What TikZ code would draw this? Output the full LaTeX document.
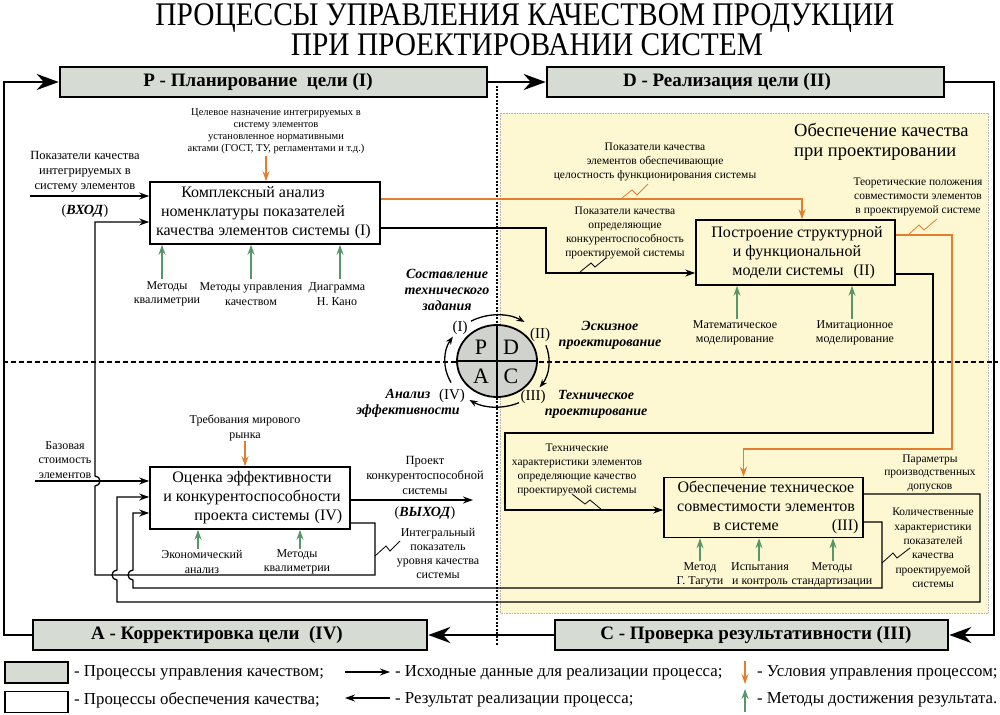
\documentclass[tikz,border=0pt]{standalone}
\usepackage{fontspec}
\setmainfont{Liberation Serif}
\newfontfamily\titlefont[FakeStretch=0.89]{Liberation Serif}
\usetikzlibrary{arrows.meta,shapes.geometric}
\definecolor{hdrgrey}{RGB}{214,219,211}
\definecolor{pdcagrey}{RGB}{208,210,206}
\definecolor{yel}{RGB}{253,248,210}
\definecolor{orng}{RGB}{226,126,46}
\definecolor{grn}{RGB}{86,150,104}
\tikzset{
  hdr/.style={draw, line width=2.6pt, fill=hdrgrey, inner sep=0pt},
  hdrtxt/.style={font=\bfseries\fontsize{19}{21}\selectfont, inner sep=0pt},
  procbox/.style={draw, line width=1.6pt, inner sep=0pt},
  proctxt/.style={align=center, font=\fontsize{16}{19}\selectfont, inner sep=0pt},
  lbl/.style={align=center, font=\fontsize{12}{14.5}\selectfont, inner sep=0pt},
  slbl/.style={align=center, font=\fontsize{11.5}{14}\selectfont, inner sep=0pt},
  tlbl/.style={align=center, font=\fontsize{10.5}{11.8}\selectfont, inner sep=0pt},
  ital/.style={align=center, font=\bfseries\itshape\fontsize{14}{16}\selectfont, inner sep=0pt},
  roman/.style={font=\fontsize{15}{17}\selectfont, inner sep=0pt},
  lgtxt/.style={anchor=west, font=\fontsize{16.8}{18}\selectfont, inner sep=0pt},
  flow/.style={line width=1.3pt, -{Stealth[length=10pt,width=7pt]}},
  oflow/.style={draw=orng, line width=1.3pt, -{Stealth[length=10pt,width=7pt]}, orng},
  gflow/.style={draw=grn, line width=1.3pt, -{Stealth[length=10pt,width=7pt]}, grn},
  bigloop/.style={line width=2.6pt, -{Stealth[length=22pt,width=16pt]}},
  zig/.style={line width=0.8pt},
  cyc/.style={line width=1.3pt, -{Stealth[length=8pt,width=6pt]}},
  legbox/.style={draw, line width=1.5pt, minimum width=63pt, minimum height=21pt, inner sep=0pt}
}
\begin{document}
\begin{tikzpicture}[x=1pt,y=-1pt]
\fill[white] (0,0) rectangle (1000,714);
\useasboundingbox (0,0) rectangle (1000,714);

% yellow region
\filldraw[fill=yel, draw=gray!60, densely dotted, line width=0.6pt] (500,113) rectangle (988,613);

% dividers
\draw[line width=1.5pt, dash pattern=on 2pt off 1.5pt] (497,86) -- (497,645);
\draw[line width=1.5pt, dash pattern=on 5pt off 3pt] (3,362) -- (998,362);

% title
\node[font=\titlefont\fontsize{33}{36}\selectfont, inner sep=0pt] (t1) at (525,18) {ПРОЦЕССЫ УПРАВЛЕНИЯ КАЧЕСТВОМ ПРОДУКЦИИ};
\node[font=\titlefont\fontsize{33}{36}\selectfont, inner sep=0pt] (t2) at (527,45) {ПРИ ПРОЕКТИРОВАНИИ СИСТЕМ};

% header boxes
\node[hdr, minimum width=427pt, minimum height=30pt] (hP) at (273.5,82) {};
\node[hdr, minimum width=397pt, minimum height=30pt] (hD) at (745.5,82) {};
\node[hdr, minimum width=394pt, minimum height=30pt] (hA) at (230,635) {};
\node[hdr, minimum width=393pt, minimum height=30pt] (hC) at (751.5,635) {};
\node[hdrtxt] (hPt) at (258,82) {P - Планирование\ \ цели (I)};
\node[hdrtxt] (hDt) at (727,82) {D - Реализация цели (II)};
\node[hdrtxt] (hAt) at (217,635) {A - Корректировка цели\ \ (IV)};
\node[hdrtxt] (hCt) at (756,635) {C - Проверка результативности (III)};

% outer loop
\coordinate (lpL) at (4,400);
\coordinate (lpR) at (994,400);
\draw[bigloop] (hA.west) -| (lpL) |- (hP.west);
\draw[bigloop] (hP.east) -- (hD.west);
\draw[bigloop] (hD.east) -| (lpR) |- (hC.east);
\draw[bigloop] (hC.west) -- (hA.east);

% region caption
\node[anchor=west, align=left, font=\fontsize{18.5}{20.5}\selectfont, inner sep=0pt] (cap) at (794,142) {Обеспечение качества\\при проектировании};

% process boxes
\node[procbox, minimum width=230pt, minimum height=62pt] (b1) at (265,213) {};
\node[procbox, minimum width=199pt, minimum height=65pt] (b2) at (795.5,252.5) {};
\node[procbox, minimum width=199pt, minimum height=60pt] (b3) at (763.5,507.5) {};
\node[procbox, minimum width=200pt, minimum height=62pt] (b4) at (250,498) {};
\node[proctxt] (b1t) at (253,213) {Комплексный анализ\\номенклатуры показателей\\качества элементов системы\rlap{\hspace{5pt}(I)}};
\node[proctxt] (b2t) at (797,253) {Построение структурной\\и функциональной\\\hspace*{-18pt}модели системы\rlap{\hspace{10pt}(II)}};
\node[proctxt] (b3t) at (766,507) {Обеспечение техническое\\совместимости элементов\\\hspace*{-40pt}в системе\rlap{\hspace{53pt}(III)}};
\node[proctxt] (b4t) at (252,498) {Оценка эффективности\\и конкурентоспособности\\проекта системы\rlap{\hspace{5pt}(IV)}};

% bend coordinates
\coordinate (in1) at (30,196);
\coordinate (in4) at (35,481);
\coordinate (out4) at (473,500);
\coordinate (k1) at (546,250);
\coordinate (k2) at (952,449);
\coordinate (k3) at (933,433);
\coordinate (k4) at (505,470);
\coordinate (k5) at (980,602);
\coordinate (k7) at (882,588);
\coordinate (k8) at (375,575);

% connectors
\draw[flow] (in1) -- ([yshift=17pt]b1.west);
\draw[flow] (in4) -- ([yshift=17pt]b4.west);
\draw[flow] ([yshift=-2pt]b4.east) -- (out4);
\draw[oflow] ([yshift=14pt]b1.east) -| ([xshift=6.5pt]b2.north);
\draw[flow] ([yshift=-15pt]b1.east) -| (k1) |- ([yshift=-20.5pt]b2.west);
\draw[oflow] ([yshift=17.5pt]b2.east) -| (k2) -| ([xshift=-20pt]b3.north);
\draw[flow] ([yshift=-21.5pt]b2.east) -| (k3) -| (k4) |- ([yshift=-2.5pt]b3.west);
\draw[flow] ([yshift=13.5pt]b3.east) -| (k5) -| (117,580) arc[start angle=-90,end angle=-270,radius=5pt] |- ([yshift=1pt]b4.west);
\draw[flow] ([yshift=-14.5pt]b3.east) -| (k7) -| (133,580) arc[start angle=-90,end angle=-270,radius=5pt] |- ([yshift=-15pt]b4.west);
\draw[flow] ([yshift=-25pt]b4.east) -| (k8) -| (95,486) arc[start angle=-90,end angle=90,radius=5pt] |- ([yshift=-9pt]b1.west);

% orange condition arrows
\draw[oflow] ([xshift=1pt,yshift=25pt]b1.north) -- ([xshift=1pt]b1.north);
\draw[oflow] ([xshift=-5pt,yshift=25pt]b4.north) -- ([xshift=-5pt]b4.north);

% green method arrows
\foreach \dx in {-103,-14,75} \draw[gflow] ([xshift=\dx pt,yshift=-34pt]b1.south) -- ([xshift=\dx pt]b1.south);
\foreach \dx in {-58.5,56.5} \draw[gflow] ([xshift=\dx pt,yshift=-33pt]b2.south) -- ([xshift=\dx pt]b2.south);
\foreach \dx in {-63.5,-4.5,69.5} \draw[gflow] ([xshift=\dx pt,yshift=-23pt]b3.south) -- ([xshift=\dx pt]b3.south);
\foreach \dx in {-52,50} \draw[gflow] ([xshift=\dx pt,yshift=-19pt]b4.south) -- ([xshift=\dx pt]b4.south);

% labels
\node[lbl, font=\fontsize{12.5}{15}\selectfont] (lin1) at (85,172) {Показатели качества\\интегрируемых в\\систему элементов};
\node[inner sep=0pt, font=\fontsize{14}{16}\selectfont] (lvx) at (85,211) {(\textbf{\textit{ВХОД}})};
\node[tlbl] (ltg) at (276,131) {Целевое назначение интегрируемых в\\систему элементов\\установленное нормативными\\актами (ГОСТ, ТУ, регламентами и т.д.)};
\node[lbl] (lm1) at (167,294) {Методы\\квалиметрии};
\node[lbl] (lm2) at (251,294) {Методы управления\\качеством};
\node[lbl] (lm3) at (337,294) {Диаграмма\\Н. Кано};
\node[lbl] (lm4) at (735,333) {Математическое\\моделирование};
\node[lbl] (lm5) at (855,333) {Имитационное\\моделирование};
\node[slbl] (lq1) at (655,162) {Показатели качества\\элементов обеспечивающие\\целостность функционирования системы};
\node[slbl] (lq2) at (625,233) {Показатели качества\\определяющие\\конкурентоспособность\\проектируемой системы};
\node[slbl] (lq3) at (918,197) {Теоретические положения\\совместимости элементов\\в проектируемой системе};
\node[slbl] (lq4) at (577,470) {Технические\\характеристики элементов\\определяющие качество\\проектируемой системы};
\node[slbl, font=\fontsize{11.5}{13.5}\selectfont] (lq5) at (930,473) {Параметры\\производственных\\допусков};
\node[slbl, font=\fontsize{11.5}{14.4}\selectfont] (lq6) at (933,548) {Количественные\\характеристики\\показателей\\качества\\проектируемой\\системы};
\node[slbl, font=\fontsize{12}{14}\selectfont] (lq7) at (438,553) {Интегральный\\показатель\\уровня качества\\системы};
\node[lbl, font=\fontsize{12.5}{15}\selectfont] (lout) at (425,475) {Проект\\конкурентоспособной\\системы};
\node[inner sep=0pt, font=\fontsize{14}{16}\selectfont] (lvy) at (425,513) {(\textbf{\textit{ВЫХОД}})};
\node[lbl] (lbase) at (65,460) {Базовая\\стоимость\\элементов};
\node[lbl] (ltr) at (245,428) {Требования мирового\\рынка};
\node[lbl] (lecon) at (202,562) {Экономический\\анализ};
\node[lbl] (lkv) at (297,562) {Методы\\квалиметрии};
\node[lbl] (lt1) at (700,575) {Метод\\Г. Тагути};
\node[lbl] (lt2) at (760,575) {Испытания\\и контроль};
\node[lbl] (lt3) at (832,575) {Методы\\стандартизации};

% zigzag markers
\draw[zig, orng] (622,198) -- (632,190) -- (637,195) -- (648,184);
\draw[zig] (580,272) -- (591,263) -- (595,267) -- (606,258);
\draw[zig, orng] (908,235) -- (919,225) -- (924,230) -- (937,219);
\draw[zig] (572,494) -- (585,504) -- (590,500) -- (602,510);
\draw[zig] (882,563) -- (893,553) -- (897,558) -- (910,548);
\draw[zig] (375,556) -- (386,546) -- (390,551) -- (400,541);

% PDCA
\node[ellipse, draw, line width=1.8pt, fill=pdcagrey, minimum width=80pt, minimum height=72pt, inner sep=0pt] (pdca) at (497,361) {};
\draw[line width=1.3pt] (pdca.north) -- (pdca.south) (pdca.west) -- (pdca.east);
\node[font=\fontsize{22}{24}\selectfont, inner sep=0pt] (lP) at (481,347) {P};
\node[font=\fontsize{22}{24}\selectfont, inner sep=0pt] (lD) at (511,347) {D};
\node[font=\fontsize{22}{24}\selectfont, inner sep=0pt] (lA) at (481,376) {A};
\node[font=\fontsize{22}{24}\selectfont, inner sep=0pt] (lC) at (511,376) {C};
\draw[cyc] ([shift={(120:52pt and 46pt)}]pdca.center) arc[start angle=120,end angle=58,x radius=52pt,y radius=46pt];
\draw[cyc] ([shift={(20:52pt and 46pt)}]pdca.center) arc[start angle=20,end angle=-35,x radius=52pt,y radius=46pt];
\draw[cyc] ([shift={(-65:52pt and 46pt)}]pdca.center) arc[start angle=-65,end angle=-122,x radius=52pt,y radius=46pt];
\draw[cyc] ([shift={(-152:52pt and 46pt)}]pdca.center) arc[start angle=-152,end angle=-212,x radius=52pt,y radius=46pt];
\node[roman] (r1) at (460,328) {(I)};
\node[roman] (r2) at (540,335) {(II)};
\node[roman] (r3) at (533,397) {(III)};
\node[roman] (r4) at (452,396) {(IV)};
\node[ital] (s1) at (447,290) {Составление\\технического\\задания};
\node[ital] (s2) at (610,335) {Эскизное\\проектирование};
\node[ital] (s3) at (596,404) {Техническое\\проектирование};
\node[ital] (s4) at (408,403) {Анализ\\эффективности};

% legend
\node[legbox, fill=hdrgrey] (lg1) at (36.5,672.5) {};
\node[legbox, fill=white] (lg2) at (36.5,702) {};
\node[lgtxt] (lg1t) at (74,673) {- Процессы управления качеством;};
\node[lgtxt] (lg2t) at (74,700) {- Процессы обеспечения качества;};
\coordinate (la1) at (345,672);
\coordinate (la1e) at (390,672);
\coordinate (la2) at (390,698);
\coordinate (la2e) at (345,698);
\draw[flow] (la1) -- (la1e);
\draw[flow] (la2) -- (la2e);
\node[lgtxt] (lg3t) at (395,673) {- Исходные данные для реализации процесса;};
\node[lgtxt] (lg4t) at (395,700) {- Результат реализации процесса;};
\coordinate (lo1) at (745,661);
\coordinate (lo1e) at (745,684);
\coordinate (lg1s) at (745,712);
\coordinate (lg1e) at (745,689);
\draw[oflow] (lo1) -- (lo1e);
\draw[gflow] (lg1s) -- (lg1e);
\node[lgtxt] (lg5t) at (757,673) {- Условия управления процессом;};
\node[lgtxt] (lg6t) at (757,700) {- Методы достижения результата.};
\end{tikzpicture}
\end{document}
